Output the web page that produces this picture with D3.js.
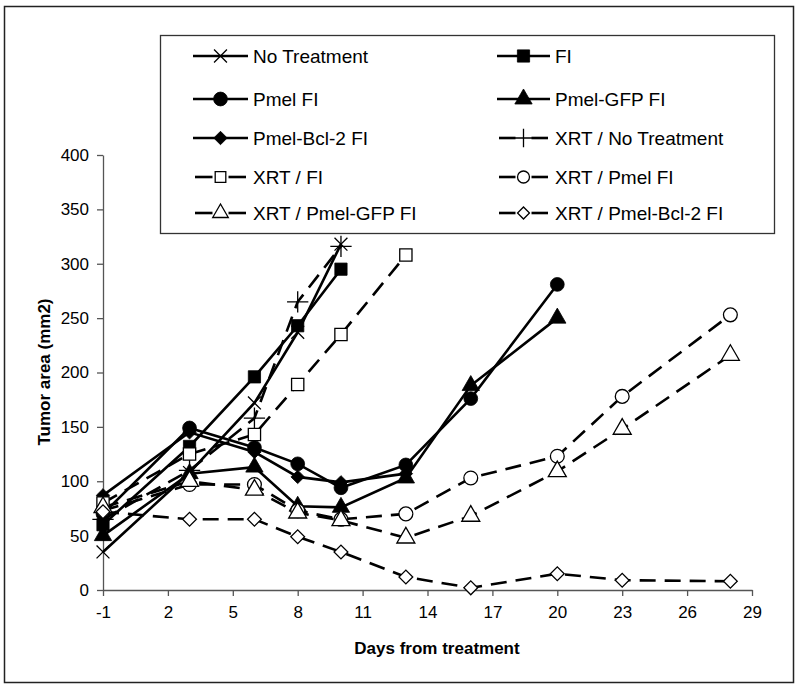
<!DOCTYPE html>
<html>
<head>
<meta charset="utf-8">
<script src="https://cdn.jsdelivr.net/npm/d3@7"></script>
<style>
  body { margin: 0; background: #fff; }
  svg { font-family: "Liberation Sans", Arial, sans-serif; }
</style>
</head>
<body>
<svg width="800" height="688"></svg>
<script>
// days from treatment
let days = [-1, 3, 6, 8, 10, 13, 16, 20, 23, 28];

// tumor area (mm2), one array per group
let noTreatment   = [35, 108, 172, 237, 318];
let fi            = [60, 132, 196, 243, 295];
let pmelFi        = [70, 149, 131, 116, 94, 115, 176, 281];
let pmelGfpFi     = [50, 107, 113, 77, 76, 103, 188, 250];
let pmelBcl2Fi    = [87, 145, 127, 104, 99, 107];
let xrtNo         = [65, 110, 158, 265, 316];
let xrtFi         = [80, 125, 143, 189, 235, 308];
let xrtPmel       = [73, 97, 97, 73, 65, 70, 103, 123, 178, 253];
let xrtPmelGfp    = [76, 100, 92, 71, 64, 48, 68, 109, 148, 216];
let xrtPmelBcl2   = [72, 65, 65, 49, 35, 12, 2, 15, 9, 8];

let seriesNames = ['No Treatment', 'FI', 'Pmel FI', 'Pmel-GFP FI', 'Pmel-Bcl-2 FI',
    'XRT /  No Treatment', 'XRT / FI', 'XRT / Pmel FI', 'XRT / Pmel-GFP FI', 'XRT / Pmel-Bcl-2 FI'];
let seriesValues = [noTreatment, fi, pmelFi, pmelGfpFi, pmelBcl2Fi,
    xrtNo, xrtFi, xrtPmel, xrtPmelGfp, xrtPmelBcl2];

let xTicks = [-1, 2, 5, 8, 11, 14, 17, 20, 23, 26, 29];
let yTicks = [0, 50, 100, 150, 200, 250, 300, 350, 400];

// marker style per series (rot: 45 turns a square into a diamond)
let markers = [
    {type: d3.symbolTimes, fill: 'none', size: 110, rot: 0, dashed: false},
    {type: d3.symbolSquare, fill: '#000', size: 150, rot: 0, dashed: false},
    {type: d3.symbolCircle, fill: '#000', size: 150, rot: 0, dashed: false},
    {type: d3.symbolTriangle, fill: '#000', size: 130, rot: 0, dashed: false},
    {type: d3.symbolSquare, fill: '#000', size: 90, rot: 45, dashed: false},
    {type: d3.symbolPlus, fill: 'none', size: 150, rot: 0, dashed: true},
    {type: d3.symbolSquare, fill: '#fff', size: 150, rot: 0, dashed: true},
    {type: d3.symbolCircle, fill: '#fff', size: 150, rot: 0, dashed: true},
    {type: d3.symbolTriangle, fill: '#fff', size: 140, rot: 0, dashed: true},
    {type: d3.symbolSquare, fill: '#fff', size: 95, rot: 45, dashed: true}
];

let svg = d3.select('svg');

// outer frame
svg.append('rect')
    .attr('x', 4.5).attr('y', 6.5)
    .attr('width', 789).attr('height', 676)
    .attr('fill', 'none').attr('stroke', '#222').attr('stroke-width', 1.5);

let xScale = d3.scaleLinear().domain([-1, 29]).range([103, 752]);
let yScale = d3.scaleLinear().domain([0, 400]).range([590, 155]);

// axes
let xAxis = svg.append('g')
    .attr('transform', 'translate(0,590)')
    .call(d3.axisBottom(xScale).tickValues(xTicks).tickFormat(function(d){ return String(d); })
        .tickSize(6).tickSizeOuter(0).tickPadding(10));
let yAxis = svg.append('g')
    .attr('transform', 'translate(103,0)')
    .call(d3.axisLeft(yScale).tickValues(yTicks).tickSize(6).tickSizeOuter(0).tickPadding(8));
[xAxis, yAxis].forEach(function(ax){
    ax.select('.domain').attr('stroke', '#555').attr('stroke-width', 1.3);
    ax.selectAll('.tick line').attr('stroke', '#555').attr('stroke-width', 1.3);
    ax.selectAll('.tick text')
        .attr('font-size', 17)
        .attr('font-family', '"Liberation Sans", Arial, sans-serif')
        .attr('fill', '#000');
});

// axis titles
svg.append('text')
    .attr('x', 437).attr('y', 654)
    .attr('text-anchor', 'middle')
    .attr('font-size', 17).attr('font-weight', 'bold')
    .text('Days from treatment');
svg.append('text')
    .attr('transform', 'translate(50,372) rotate(-90)')
    .attr('text-anchor', 'middle')
    .attr('font-size', 17).attr('font-weight', 'bold')
    .text('Tumor area (mm2)');

// lines and markers
let line = d3.line()
    .x(function(d){ return xScale(d[0]); })
    .y(function(d){ return yScale(d[1]); });

let plot = svg.append('g').attr('class', 'series');
seriesValues.forEach(function(vals, i){
    let pts = vals.map(function(v, j){ return [days[j], v]; });
    let m = markers[i];
    plot.append('path')
        .datum(pts)
        .attr('d', line)
        .attr('fill', 'none')
        .attr('stroke', '#000')
        .attr('stroke-width', 2.6)
        .attr('stroke-dasharray', m.dashed ? '16,9' : null);
});
seriesValues.forEach(function(vals, i){
    let pts = vals.map(function(v, j){ return [days[j], v]; });
    let m = markers[i];
    plot.append('g')
        .selectAll('path')
        .data(pts)
        .enter()
        .append('path')
        .attr('transform', function(d){
            return `translate(${xScale(d[0])},${yScale(d[1])}) rotate(${m.rot})`;
        })
        .attr('d', d3.symbol().type(m.type).size(m.size))
        .attr('fill', m.fill)
        .attr('stroke', '#000')
        .attr('stroke-width', m.fill === '#000' ? 0.8 : 1.3);
});

// legend
let legend = svg.append('g').attr('class', 'legend');
legend.append('rect')
    .attr('x', 160.5).attr('y', 35.5)
    .attr('width', 614).attr('height', 198)
    .attr('fill', '#fff').attr('stroke', '#333').attr('stroke-width', 1.3);

let rowY = [56, 99, 138, 177, 213];
seriesNames.forEach(function(name, i){
    let col = i % 2, row = Math.floor(i / 2);
    let m = markers[i];
    let x0 = col === 0 ? 193 : 497;
    let x1 = col === 0 ? 248 : 550;
    let cx = (x0 + x1) / 2;
    let y = rowY[row];
    let g = legend.append('g');
    if (m.dashed) {
        g.append('line').attr('x1', x0 + 2).attr('x2', cx - 8).attr('y1', y).attr('y2', y)
            .attr('stroke', '#000').attr('stroke-width', 2.6);
        g.append('line').attr('x1', cx + 8).attr('x2', x1 - 2).attr('y1', y).attr('y2', y)
            .attr('stroke', '#000').attr('stroke-width', 2.6);
    } else {
        g.append('line').attr('x1', x0).attr('x2', x1).attr('y1', y).attr('y2', y)
            .attr('stroke', '#000').attr('stroke-width', 2.6);
    }
    g.append('path')
        .attr('transform', `translate(${cx},${y}) rotate(${m.rot})`)
        .attr('d', d3.symbol().type(m.type).size(m.dashed ? m.size * 0.75 : m.size))
        .attr('fill', m.fill)
        .attr('stroke', '#000')
        .attr('stroke-width', m.fill === '#000' ? 0.8 : 1.3);
    g.append('text')
        .attr('x', x1 + 5)
        .attr('y', y + 7)
        .attr('font-size', 19)
        .text(name);
});
</script>
</body>
</html>
